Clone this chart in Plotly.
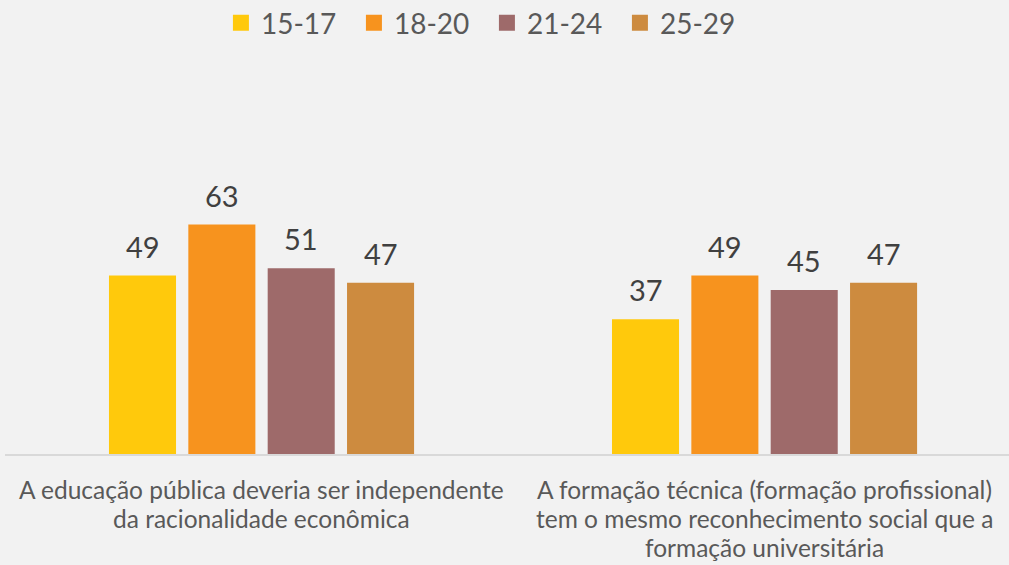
import plotly.graph_objects as go

# Survey statements (x categories, one list of text lines each) and age groups
category_lines = [
    ["A educação pública deveria ser independente",
     "da racionalidade econômica"],
    ["A formação técnica (formação profissional)",
     "tem o mesmo reconhecimento social que a",
     "formação universitária"],
]
age_groups = ["15-17", "18-20", "21-24", "25-29"]
values = {
    "15-17": [49, 37],
    "18-20": [63, 49],
    "21-24": [51, 45],
    "25-29": [47, 47],
}
colors = {
    "15-17": "#FFC90C",
    "18-20": "#F7931E",
    "21-24": "#9E6A6A",
    "25-29": "#CD8B3F",
}

FONT = "Lato"
BARGAP = 0.369
BARGROUPGAP = 0.155
LABEL_LINE_GAP = 29

x_pos = list(range(len(category_lines)))

fig = go.Figure()
for name in age_groups:
    fig.add_trace(go.Bar(
        x=x_pos, y=values[name], name=name,
        marker=dict(color=colors[name], line=dict(width=0)),
        showlegend=False,
    ))
    # legend entry with a larger square swatch
    fig.add_trace(go.Scatter(
        x=[None], y=[None], mode="markers", name=name,
        marker=dict(symbol="square", size=16, color=colors[name]),
        showlegend=True,
    ))

annotations = []

# value labels above each bar
slot = (1 - BARGAP) / len(age_groups)
for i, name in enumerate(age_groups):
    offset = (i - (len(age_groups) - 1) / 2) * slot
    for xi, v in zip(x_pos, values[name]):
        annotations.append(dict(
            x=xi + offset, y=v, xref="x", yref="y",
            text=str(v), showarrow=False, yanchor="bottom", yshift=10,
            font=dict(family=FONT, size=29, color="#404040"),
        ))

# category labels under the axis, one line at a time
for xi, lines in zip(x_pos, category_lines):
    for k, line in enumerate(lines):
        annotations.append(dict(
            x=xi, y=0, xref="x", yref="paper",
            text=line, showarrow=False, yanchor="middle", xanchor="center",
            yshift=-(35 + LABEL_LINE_GAP * k),
            font=dict(family=FONT, size=24.5, color="#595959"),
        ))

fig.update_layout(
    width=1009, height=565,
    margin=dict(l=5, r=0, t=199, b=111, autoexpand=False),
    paper_bgcolor="#F2F2F2", plot_bgcolor="#F2F2F2",
    barmode="group", bargap=BARGAP, bargroupgap=BARGROUPGAP,
    font=dict(family=FONT, color="#595959"),
    legend=dict(
        orientation="h", x=0.48, xanchor="center", y=1.69, yanchor="middle",
        font=dict(family=FONT, size=28, color="#595959"),
        itemwidth=30, entrywidth=88, tracegroupgap=0, bgcolor="rgba(0,0,0,0)",
    ),
    annotations=annotations,
)
fig.update_xaxes(
    range=[-0.51, 1.486], tickvals=x_pos, showticklabels=False,
    showline=True, linecolor="#D9D9D9", linewidth=1.5,
    showgrid=False, zeroline=False, ticks="", automargin=False,
)
fig.update_yaxes(range=[0, 70], visible=False, showgrid=False, zeroline=False,
                 automargin=False)

fig.write_html("out.html")
